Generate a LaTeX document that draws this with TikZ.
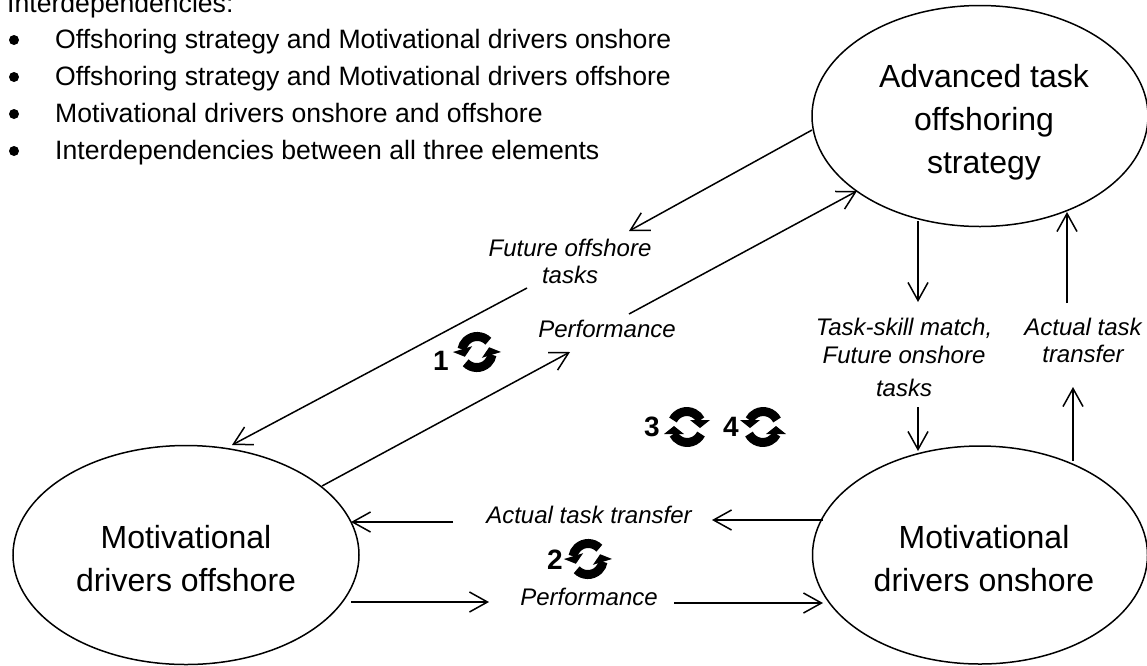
\documentclass[tikz,border=0pt]{standalone}
\usepackage{fontspec}
\setmainfont{Liberation Sans}
\usetikzlibrary{positioning, arrows.meta, shapes.geometric}

\begin{document}
\begin{tikzpicture}
    [
        x=1pt, y=-1pt, on grid, >={Straight Barb[length=18pt, width=20pt]},
        big_node/.style={ellipse, draw=black, fill=white, line width=1.5pt, inner sep=0pt},
        big_text/.style={align=center, font=\fontsize{32}{43}\selectfont},
        tag_node/.style={align=center, font=\fontsize{24}{27}\selectfont\itshape},
        list_node/.style={anchor=base west, inner sep=0pt, font=\fontsize{26.6}{30}\selectfont},
        num_node/.style={font=\fontsize{28}{32}\selectfont\bfseries},
        flow/.style={->, line width=1.5pt},
        loop_icon/.pic={
            \draw[line width=9pt] (-14,-7) arc (207:333:15.5) ;
            \draw[line width=9pt] (14,7) arc (27:153:15.5) ;
            \fill (3,-7) -- (23,-7) -- (13,1) -- cycle ;
            \fill (-3,7) -- (-23,7) -- (-13,-1) -- cycle ;
        },
    ]
        \useasboundingbox (0,0) rectangle (1147,665) ;
        \node[big_node, minimum width=346pt, minimum height=219pt] (offshore) at (186,555) {} ;
        \node[big_node, minimum width=335pt, minimum height=218pt, right = 794pt of offshore] (onshore) {} ;
        \node[big_node, minimum width=336pt, minimum height=221pt, above = 439pt of onshore] (strategy) {} ;
        \node[big_text, below = 4pt of offshore] (offshore_text) {Motivational\\drivers offshore} ;
        \node[big_text, below right = 4pt and 4pt of onshore] (onshore_text) {Motivational\\drivers onshore} ;
        \node[big_text, below right = 6pt and 4pt of strategy] (strategy_text) {Advanced task\\offshoring\\strategy} ;
        \node[list_node] (head) at (7,12) {Interdependencies:} ;
        \node[list_node] (item1) at (55,48) {Offshoring strategy and Motivational drivers onshore} ;
        \node[list_node] (item2) at (55,85) {Offshoring strategy and Motivational drivers offshore} ;
        \node[list_node] (item3) at (55,122) {Motivational drivers onshore and offshore} ;
        \node[list_node] (item4) at (55,159) {Interdependencies between all three elements} ;
        \foreach \row in {1,...,4}
            \fill ([xshift=-41pt, yshift=8pt]item\row.base west) circle (5pt) ;
        \node[tag_node] (future) at (570,261) {Future offshore\\tasks} ;
        \node[tag_node] (perf_up) at (607,329) {Performance} ;
        \node[tag_node] (match) at (904,357) {Task-skill match,\\[1pt]Future onshore\\[6pt]tasks} ;
        \node[tag_node] (transfer_up) at (1083,340) {Actual task\\transfer} ;
        \node[tag_node] (transfer_low) at (589,515) {Actual task transfer} ;
        \node[tag_node] (perf_low) at (589,597) {Performance} ;
        \node[num_node] (one) at (441,361) {1} ;
        \node[num_node] (two) at (555,560) {2} ;
        \node[num_node] (three) at (652,427) {3} ;
        \node[num_node] (four) at (731,427) {4} ;
        \pic[rotate=17, xscale=-1] at (477,352) {loop_icon} ;
        \pic[rotate=17, xscale=-1] at (588,559) {loop_icon} ;
        \pic at (687,427) {loop_icon} ;
        \pic[xscale=-1] at (763,427) {loop_icon} ;
        \coordinate (a1) at (812,130) ; \coordinate (a2) at (629,231) ;
        \coordinate (b1) at (527,288) ; \coordinate (b2) at (232,445) ;
        \coordinate (c1) at (322,486) ; \coordinate (c2) at (570,352) ;
        \coordinate (d1) at (629,314) ; \coordinate (d2) at (857,191) ;
        \coordinate (e1) at (918,221) ; \coordinate (e2) at (918,302) ;
        \coordinate (f1) at (918,407) ; \coordinate (f2) at (918,451) ;
        \coordinate (g1) at (1067,303) ; \coordinate (g2) at (1067,212) ;
        \coordinate (h1) at (1073,461) ; \coordinate (h2) at (1073,387) ;
        \coordinate (i1) at (823,520) ; \coordinate (i2) at (712,520) ;
        \coordinate (j1) at (453,522) ; \coordinate (j2) at (351,522) ;
        \coordinate (k1) at (351,602) ; \coordinate (k2) at (489,602) ;
        \coordinate (l1) at (674,603) ; \coordinate (l2) at (823,603) ;
        \foreach \arrow in {a,b,c,d,e,f,g,h,i,j,k,l}
            \draw[flow] (\arrow1) -- (\arrow2) ;
    \end{tikzpicture}
\end{document}
